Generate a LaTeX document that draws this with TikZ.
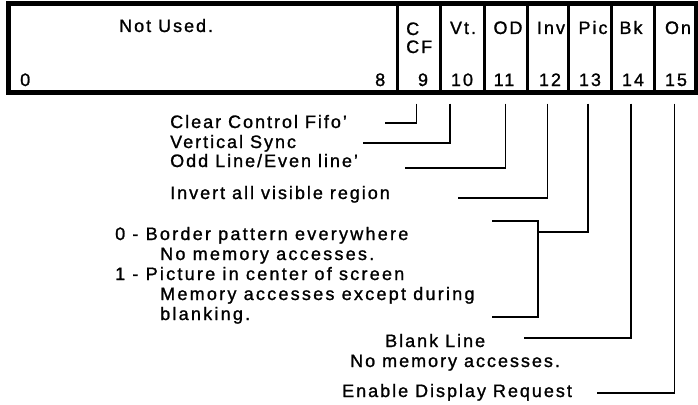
\documentclass[tikz,border=0pt]{standalone}
\usepackage{fontspec}
\setmainfont{Liberation Sans}[LetterSpace=11, FakeBold=1.2]
\begin{document}
\begin{tikzpicture}[x=1pt, y=-1pt,
  font=\fontsize{18}{20}\selectfont,
  cell/.style={draw, line width=3pt, minimum height=86pt, inner sep=0pt},
  lbl/.style={anchor=base, inner sep=0pt},
  desc/.style={anchor=base west, inner sep=0pt, align=left},
  wire/.style={line width=1.8pt}]
\useasboundingbox (0,0) rectangle (698,404);
% register fields
\node[cell, minimum width=387.5pt] (unused) at (203.25,48) {};
\node[cell, minimum width=43pt] (b9) at (418.5,48) {};
\node[cell, minimum width=44pt] (b10) at (462,48) {};
\node[cell, minimum width=43pt] (b11) at (505.5,48) {};
\node[cell, minimum width=41pt] (b12) at (547.5,48) {};
\node[cell, minimum width=43pt] (b13) at (589.5,48) {};
\node[cell, minimum width=43pt] (b14) at (632.5,48) {};
\node[cell, minimum width=41pt] (b15) at (674.5,48) {};
\draw[line width=4pt] (unused.north west) rectangle (b15.south east);
% field names and bit numbers
\node[lbl, anchor=base west] (nu) at (119,32) {Not Used.};
\node[lbl, anchor=base west] (n0) at (20,86) {0};
\node[lbl, anchor=base west] (n8) at (375,86) {8};
% multi-line nodes sit on the baseline of their last line
\node[desc, font=\fontsize{18}{18}\selectfont] (l9) at (406,53) {C\\CF};
\node[lbl] (l10) at (463,34) {Vt.};
\node[lbl] (l11) at (508,34) {OD};
\node[lbl] (l12) at (551,34) {Inv};
\node[lbl] (l13) at (593,34) {Pic};
\node[lbl] (l14) at (631,34) {Bk};
\node[lbl] (l15) at (678,34) {On};
\node[lbl] (n9) at (423,86) {9};
\node[lbl] (n10) at (462,86) {10};
\node[lbl] (n11) at (504,86) {11};
\node[lbl] (n12) at (550,86) {12};
\node[lbl] (n13) at (590,86) {13};
\node[lbl] (n14) at (633,86) {14};
\node[lbl] (n15) at (676,86) {15};
% descriptions
\node[desc] (t9) at (170,128) {Clear Control Fifo'};
\node[desc] (t10) at (170,148) {Vertical Sync};
\node[desc] (t11) at (170,167) {Odd Line/Even line'};
\node[desc] (t12) at (170,199) {Invert all visible region};
\node[desc, font=\fontsize{18}{20}\selectfont\addfontfeature{LetterSpace=12.5}] (t13) at (115,320) {0 - Border pattern everywhere\\
  \hspace*{45pt}No memory accesses.\\
  1 - Picture in center of screen\\
  \hspace*{45pt}Memory accesses except during\\
  \hspace*{45pt}blanking.};
\node[desc] (t14) at (350,367) {\hspace*{35pt}Blank Line\\No memory accesses.};
\node[desc] (t15) at (342,397) {Enable Display Request};
% line ends
\coordinate (e9) at (385,123);
\coordinate (e10) at (363,143);
\coordinate (e11) at (405,168);
\coordinate (e12) at (458,198);
\coordinate (c13) at (538,232);
\coordinate (k13a) at (492,221);
\coordinate (k13b) at (492,317);
\coordinate (e14) at (524,338);
\coordinate (e15) at (597,393);
% bit lines
\draw[wire] ([xshift=-2pt,yshift=-11pt]b9.south) |- (e9);
\draw[wire] ([xshift=-12pt,yshift=-11pt]b10.south) |- (e10);
\draw[wire] ([yshift=-11pt]b11.south) |- (e11);
\draw[wire] ([yshift=-11pt]b12.south) |- (e12);
\draw[wire] ([xshift=-1.5pt,yshift=-11pt]b13.south) |- (c13);
\draw[wire] (k13a) -| (c13) |- (k13b);
\draw[wire] ([xshift=-1.5pt,yshift=-11pt]b14.south) |- (e14);
\draw[wire] ([yshift=-11pt]b15.south) |- (e15);
\end{tikzpicture}
\end{document}
